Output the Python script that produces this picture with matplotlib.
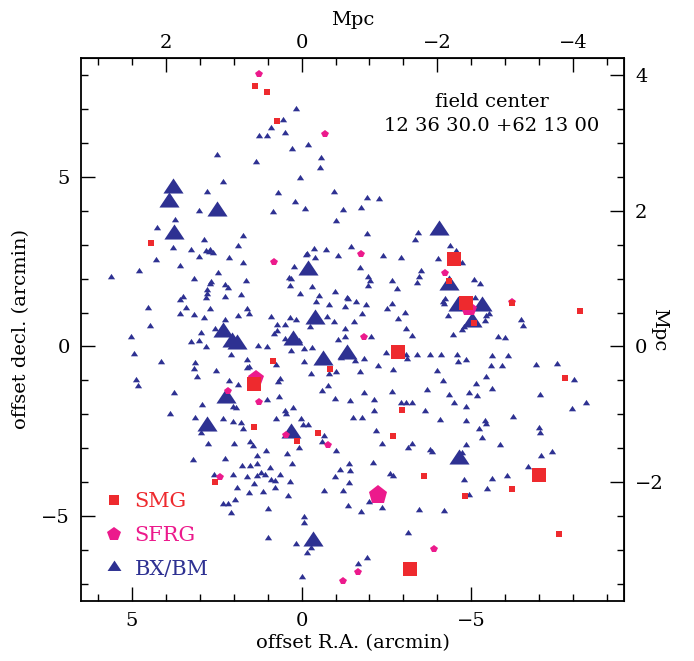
import numpy as np
import matplotlib.pyplot as plt
from matplotlib.lines import Line2D
from matplotlib.ticker import MultipleLocator

plt.rcParams['font.family'] = ['DejaVu Serif']
plt.rcParams['font.size'] = 14

# 1 Mpc on the sky in arcmin
ARCMIN_PER_MPC = 2.0

# offsets (R.A., decl.) in arcmin
smg_big = np.array([(1.41, -1.12), (-2.84, -0.16), (-4.49, 2.57), (-4.84, 1.27),
                    (-6.99, -3.79), (-3.2, -6.57)])
smg_small = np.array([(1.36, 7.66), (1.01, 7.49), (0.71, 6.64), (4.43, 3.05), (0.83, -0.42),
                      (-0.84, -0.67), (-2.95, -1.86), (1.4, -2.37), (-0.49, -2.55), (0.13, -2.79),
                      (-2.7, -2.63), (-3.61, -3.81), (2.55, -3.98), (-4.34, 1.93), (-5.09, 0.68),
                      (-6.2, 1.28), (-8.2, 1.05), (-7.76, -0.93), (-6.19, -4.21), (-4.81, -4.42),
                      (-7.58, -5.54)])

sfrg_big = np.array([(-2.25, -4.37)])
sfrg_mid = np.array([(1.34, -0.94), (-4.94, 1.1)])
sfrg_small = np.array([(1.24, 8.03), (-0.68, 6.25), (0.8, 2.49), (-1.76, 2.71), (-1.84, 0.29),
                       (-4.24, 2.16), (2.16, -1.31), (1.26, -1.63), (0.47, -2.61), (-0.78, -2.89),
                       (2.41, -3.86), (-1.65, -6.65), (-1.21, -6.92), (-3.9, -5.97), (-6.2, 1.32)])

bx_big = np.array([(3.78, 4.68), (3.92, 4.26), (2.5, 3.99), (3.75, 3.31), (-4.05, 3.43),
                   (-0.18, 2.24), (-0.39, 0.8), (0.24, 0.19), (-0.63, -0.4), (-1.35, -0.22),
                   (2.33, 0.43), (2.05, 0.14), (1.9, 0.08), (2.24, -1.53), (2.79, -2.35),
                   (0.31, -2.56), (-4.34, 1.82), (-4.62, 1.19), (-5.32, 1.19), (-5.01, 0.71),
                   (-4.65, -3.31), (-0.35, -5.72)])

bx_small = np.array([
    (1.26, 6.2), (2.5, 5.64), (1.34, 5.43), (2.32, 4.84), (2.79, 4.54), (3.01, 3.99), (3.74, 3.72),
    (4.25, 3.49), (1.72, 3.24), (2.89, 3.15),
    (0.15, 6.99), (0.56, 6.66), (0.9, 6.45), (0.48, 6.3), (1.03, 6.19), (0.29, 5.81), (-0.18, 5.95),
    (-0.58, 5.55), (-0.55, 5.25), (0.05, 4.96), (0.69, 4.52), (-0.95, 4.55), (0.19, 4.26),
    (-0.1, 4.05), (-1.93, 4.37), (-2.28, 4.35), (0.83, 3.95), (-1.22, 4.01), (-1.76, 4.08),
    (-1.01, 3.69), (-1.93, 3.31), (-3.42, 3.35), (-3.34, 3.14),
    (3.8, 2.91), (1.88, 2.96), (3.27, 2.83), (2.81, 2.81), (2.69, 2.85), (2.72, 2.77), (2.6, 2.74),
    (4.3, 2.54), (3.01, 2.63), (2.13, 2.6), (1.74, 2.45), (3.58, 2.36), (4.8, 2.22), (2.45, 2.16),
    (5.62, 2.04), (3.16, 1.99), (1.65, 1.93), (2.66, 1.91), (2.71, 1.85), (2.25, 1.8), (2.18, 1.71),
    (2.8, 1.65), (2.78, 1.55), (2.83, 1.43), (3.48, 1.45), (3.59, 1.37), (2.25, 1.45), (1.79, 1.52),
    (4.52, 1.14), (3.41, 1.13), (2.69, 1.09), (1.61, 1.1), (1.54, 0.97), (3.59, 0.95), (3.16, 0.92),
    (2.89, 0.83), (1.86, 0.9), (2.27, 0.79), (4.46, 0.61), (2.56, 0.51), (2.96, 0.39), (5.02, 0.28),
    (3.01, 0.16), (3.27, 0.12), (2.83, -0.02), (1.29, 0.01), (4.93, -0.22), (2.09, -0.26),
    (1.6, -0.4), (4.14, -0.45), (3.14, -0.49), (1.62, -0.63), (1.55, -0.61), (3.18, -0.67),
    (2.52, -0.72), (3.07, -0.91), (4.87, -0.99), (2.13, -1.01), (1.88, -1.15), (4.83, -1.18),
    (3.76, -1.36), (2.92, -1.73), (2.03, -1.78), (1.93, -1.81), (3.87, -1.99), (3.15, -2.12),
    (2.33, -2.14),
    (-0.37, 2.87), (-0.73, 2.85), (-1.46, 2.93), (-0.16, 2.71), (-0.12, 2.69), (-0.41, 2.61),
    (-1.06, 2.66), (-2.4, 2.66), (-2.92, 2.62), (0.21, 2.33), (-1.73, 2.31), (0.37, 2.03), (0.3, 2.0),
    (-1.96, 2.05), (-2.02, 1.94), (-3.52, 2.21), (-3.46, 2.04), (-3.41, 1.88), (-2.66, 1.93),
    (0.33, 1.79), (-0.31, 1.75), (-1.95, 1.78), (-2.81, 1.69), (0.05, 1.54), (-0.99, 1.59),
    (-0.5, 1.48), (-1.34, 1.44), (-1.36, 1.39), (-0.42, 1.32), (-1.61, 1.3), (-0.81, 1.21),
    (-1.28, 1.16), (-1.89, 1.21), (-2.65, 1.25), (-2.51, 1.11), (-1.78, 0.96), (-3.06, 1.0),
    (0.9, 0.87), (0.34, 0.83), (0.15, 0.78), (-0.74, 0.87), (-0.95, 0.71), (-1.55, 0.72),
    (-2.84, 0.81), (0.71, 0.62), (0.48, 0.63), (-0.25, 0.57), (-1.29, 0.5), (-3.09, 0.51),
    (0.71, 0.46), (0.82, 0.38), (-1.29, 0.29), (-2.05, 0.27), (-3.24, 0.3), (0.5, 0.22), (0.08, 0.15),
    (-1.07, 0.19), (1.02, -0.02), (0.31, -0.12), (-0.07, -0.08), (-0.31, -0.06), (-2.48, -0.19),
    (-3.08, -0.24), (-3.11, -0.37), (-3.39, -0.24), (-3.78, -0.24), (-1.16, -0.35), (-1.56, -0.43),
    (-1.84, -0.38), (0.76, -0.55), (-0.07, -0.47), (-0.81, -0.81), (-1.01, -0.74), (-2.24, -0.58),
    (-2.7, -0.7), (-0.29, -0.81), (-1.71, -0.76), (0.64, -0.97), (0.69, -1.06), (-0.79, -1.17),
    (-0.61, -1.31), (-1.85, -1.37), (-2.67, -1.34), (-3.69, -1.29), (1.02, -1.58), (0.66, -1.49),
    (-0.99, -1.54), (-1.42, -1.62), (-2.13, -1.57), (-2.92, -1.66), (-3.08, -1.68), (-3.26, -1.68),
    (-3.64, -1.89), (-2.14, -1.9), (0.26, -1.82), (0.5, -1.89), (0.46, -1.99),
    (0.76, -2.14), (0.01, -2.14), (-1.52, -2.11), (-1.79, -2.1), (-0.05, -2.31), (-0.19, -2.31),
    (-0.66, -2.63), (-0.59, -2.82), (0.09, -2.98), (-1.02, -3.08), (-2.19, -2.5), (-2.38, -2.88),
    (-3.13, -2.98), (-3.26, -2.88), (-3.78, -3.04), (-3.85, -3.1), (1.06, -3.08), (1.3, -3.24),
    (0.43, -3.18), (1.3, -3.47), (0.29, -3.46), (-1.41, -3.45), (-2.11, -3.44), (0.92, -3.59),
    (-1.13, -3.63), (-1.43, -3.67), (1.21, -3.74), (1.09, -3.79), (0.63, -3.79), (1.32, -3.81),
    (-0.99, -3.85), (-2.61, -3.76), (-2.68, -3.82), (0.9, -3.93), (0.78, -3.97), (0.35, -3.98),
    (-1.41, -4.02), (0.78, -4.17), (-0.66, -4.26), (-1.23, -4.26), (1.14, -4.29), (0.4, -4.4),
    (-1.99, -4.59), (-2.37, -4.76), (-1.36, -4.69), (0.99, -4.78), (-1.75, -4.88), (-3.46, -4.81),
    (-0.08, -5.03), (-0.07, -5.19), (-3.14, -5.49), (0.99, -5.64), (0.16, -5.81), (-0.29, -5.93),
    (-0.17, -6.08), (-1.94, -6.23), (-1.66, -6.42), (0.0, -6.79),
    (-4.08, -2.17), (-4.84, -2.19), (-5.4, -2.19), (-5.43, -2.29), (-6.24, -2.07), (-5.22, -2.43),
    (-6.99, -2.41), (-7.02, -2.55), (-5.31, -2.69), (-4.84, -2.9), (-5.84, -2.9), (-4.72, -3.13),
    (-7.05, -3.23), (-7.39, -3.12), (-6.68, -3.56), (-4.79, -3.93), (-5.62, -3.9), (-6.05, -3.81),
    (-5.47, -4.21), (-4.92, -4.37), (-4.21, -4.84),
    (-4.37, 2.96), (-4.54, 2.81), (-4.02, 2.59), (-4.72, 2.47), (-5.07, 1.95), (-5.26, 1.83),
    (-4.22, 1.39), (-4.16, 1.31), (-4.2, 1.25), (-5.11, 1.42), (-5.51, 0.97), (-5.42, 0.89),
    (-5.41, 0.74), (-4.31, 0.89), (-4.73, 0.49), (-4.79, 0.57), (-6.48, 0.79), (-6.51, 0.6),
    (-4.45, 0.33), (-5.79, 0.27), (-5.99, 0.25), (-4.11, -0.24), (-4.59, -0.26), (-5.62, -0.28),
    (-6.09, -0.28), (-4.61, -0.46), (-4.84, -0.4), (-5.59, -0.57), (-5.92, -0.57), (-6.9, -0.56),
    (-7.52, -0.52), (-4.0, -0.71), (-4.16, -1.01), (-5.43, -0.9), (-8.03, -0.99), (-5.14, -1.11),
    (-5.62, -1.25), (-4.94, -1.38), (-5.16, -1.46), (-4.35, -1.44), (-4.49, -1.67), (-4.84, -1.78),
    (-7.02, -1.43), (-8.38, -1.68), (-7.97, -1.84),
    (2.01, -2.22), (1.79, -2.25), (1.74, -2.42), (2.96, -2.56), (1.51, -2.81), (1.43, -2.93),
    (2.76, -2.87), (2.0, -2.88), (3.19, -3.34), (2.26, -3.31), (1.77, -3.52), (1.52, -3.52),
    (2.57, -3.79), (2.02, -3.79), (1.6, -3.85), (1.41, -4.06), (1.89, -4.16), (1.56, -4.31),
    (1.97, -4.52), (2.31, -4.64), (2.18, -4.64), (2.07, -4.92)])

labels = ["SMG", "SFRG", "BX/BM"]
field_center = ["field center", "12 36 30.0 +62 13 00"]

red = "#EE2A2E"
pink = "#EC1A8C"
blue = "#2E3192"

# squat up-triangle, like the reference glyph
tri = [(-1, -0.5), (1, -0.5), (0, 1.0), (-1, -0.5)]

fig = plt.figure(figsize=(6.94, 6.61), dpi=100)
ax = fig.add_axes([0.1167, 0.0908, 0.7824, 0.8215])

ax.plot(bx_small[:, 0], bx_small[:, 1], ls="none", marker=tri, ms=5.2, color=blue, mew=0)
ax.plot(bx_big[:, 0], bx_big[:, 1], ls="none", marker=tri, ms=14.5, color=blue, mew=0)
ax.plot(sfrg_small[:, 0], sfrg_small[:, 1], ls="none", marker="p", ms=6, color=pink, mew=0)
ax.plot(sfrg_mid[:, 0], sfrg_mid[:, 1], ls="none", marker="p", ms=11.5, color=pink, mew=0)
ax.plot(sfrg_big[:, 0], sfrg_big[:, 1], ls="none", marker="p", ms=14, color=pink, mew=0)
ax.plot(smg_small[:, 0], smg_small[:, 1], ls="none", marker="s", ms=4.5, color=red, mew=0)
ax.plot(smg_big[:, 0], smg_big[:, 1], ls="none", marker="s", ms=10, color=red, mew=0)

ax.set_xlim(6.5, -9.5)
ax.set_ylim(-7.5, 8.5)
ax.xaxis.set_major_locator(MultipleLocator(5))
ax.xaxis.set_minor_locator(MultipleLocator(1))
ax.yaxis.set_major_locator(MultipleLocator(5))
ax.yaxis.set_minor_locator(MultipleLocator(1))
ax.tick_params(which="both", direction="in", top=False, right=False, width=1)
ax.tick_params(which="major", length=10, pad=8)
ax.tick_params(which="minor", length=5)
for s in ax.spines.values():
    s.set_linewidth(1.3)

ax.set_xlabel("offset R.A. (arcmin)", labelpad=3)
ax.set_ylabel("offset decl. (arcmin)", labelpad=8)

to_mpc = (lambda a: a / ARCMIN_PER_MPC, lambda m: m * ARCMIN_PER_MPC)
top = ax.secondary_xaxis("top", functions=to_mpc)
top.set_xticks([2, 0, -2, -4])
top.xaxis.set_minor_locator(MultipleLocator(0.5))
top.set_xlabel("Mpc", labelpad=7)
right = ax.secondary_yaxis("right", functions=to_mpc)
right.set_yticks([4, 2, 0, -2])
right.yaxis.set_minor_locator(MultipleLocator(0.5))
right.set_ylabel("Mpc", rotation=270, labelpad=3)
for sec in (top, right):
    sec.tick_params(which="both", direction="in", width=1)
    sec.tick_params(which="minor", length=5)
top.tick_params(which="major", length=10, pad=4)
right.tick_params(which="major", length=10, pad=8)

ax.text(0.757, 0.919, field_center[0], transform=ax.transAxes, ha="center", va="center")
ax.text(0.757, 0.875, field_center[1], transform=ax.transAxes, ha="center", va="center")

handles = [Line2D([], [], ls="none", marker="s", ms=7, color=red, mew=0),
           Line2D([], [], ls="none", marker="p", ms=10, color=pink, mew=0),
           Line2D([], [], ls="none", marker=tri, ms=10, color=blue, mew=0)]
ax.legend(handles, labels, loc="lower left", bbox_to_anchor=(0.026, 0.026), frameon=False,
          labelcolor=[red, pink, blue], handlelength=1.0, handletextpad=0.5,
          labelspacing=0.7, borderaxespad=0, fontsize=15)

fig.savefig("out.png", dpi=100)
